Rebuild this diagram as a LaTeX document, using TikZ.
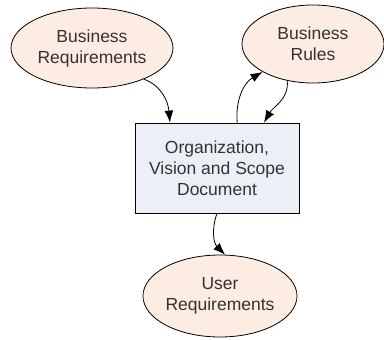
\documentclass[tikz,border=0pt]{standalone}
\usepackage{fontspec}
\setmainfont{Liberation Sans}
\usetikzlibrary{shapes.geometric,arrows.meta}
\definecolor{ovalfill}{RGB}{252,236,226}
\definecolor{boxfill}{RGB}{236,240,246}
\definecolor{textgray}{RGB}{51,51,51}
\begin{document}
\begin{tikzpicture}[x=1pt,y=-1pt,
  every node/.style={font=\fontsize{17.5}{21}\selectfont, text=textgray, align=center, inner sep=0pt},
  oval/.style={ellipse, draw=black, line width=0.8pt, fill=ovalfill},
  docbox/.style={rectangle, draw=black, line width=0.8pt, fill=boxfill},
  flow/.style={draw=black, line width=0.8pt, -{Latex[length=12pt,width=9pt]}}]
\useasboundingbox (0,0) rectangle (384,340);
\node[oval, minimum width=162pt, minimum height=80pt] (br) at (92,48) {Business\\Requirements};
\node[oval, minimum width=142pt, minimum height=78pt] (rules) at (313,44) {Business\\Rules};
\node[docbox, minimum width=164pt, minimum height=90pt] (doc) at (217,168) {Organization,\\Vision and Scope\\Document};
\node[oval, minimum width=145pt, minimum height=82pt] (ur) at (220,296) {User\\Requirements};
\draw[flow] (br.-31) to[out=-20, in=95] (doc.136);
\draw[flow] (doc.66) to[out=95, in=210] (rules.209);
\draw[flow] (rules.235) to[out=-85, in=60] (doc.44);
\draw[flow] (doc.south) to[out=-110, in=135] (ur.83);
\end{tikzpicture}
\end{document}
